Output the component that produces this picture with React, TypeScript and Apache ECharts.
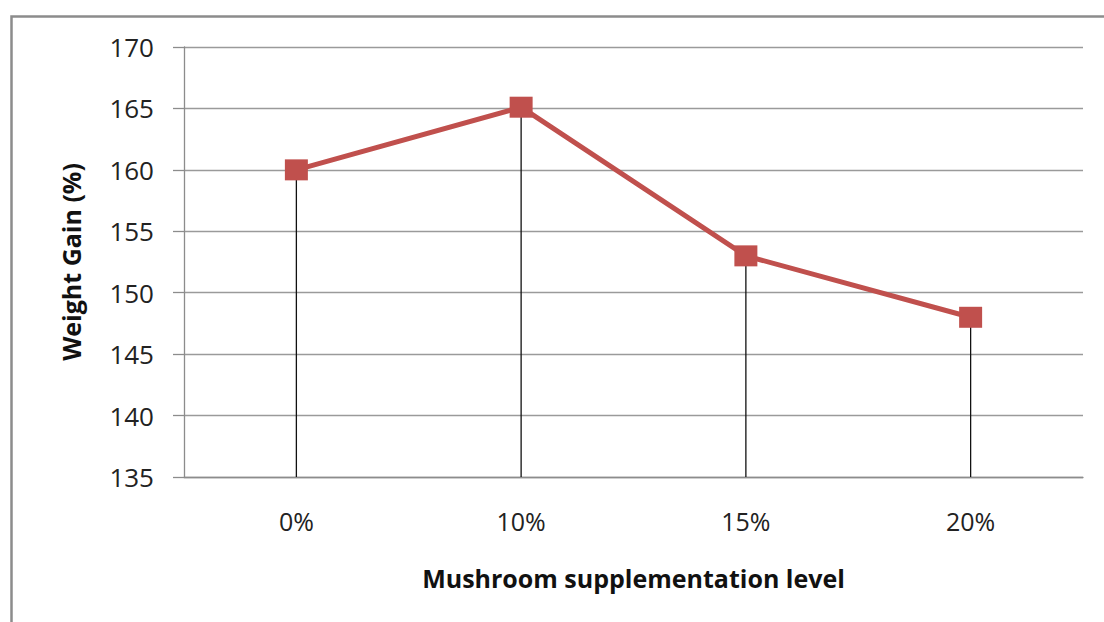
import React, { useEffect, useRef } from "react";
import * as echarts from "echarts";

const categories = ["0%", "10%", "15%", "20%"];
const weightGain = [160, 165.1, 153, 148];
const yMin = 135;
const yMax = 170;
const yInterval = 5;

export default function App() {
  const ref = useRef<HTMLDivElement>(null);
  useEffect(() => {
    if (!ref.current) return;
    const chart = echarts.init(ref.current, undefined, { renderer: "svg" });
    const font = "'Open Sans', 'Liberation Sans', sans-serif";
    chart.setOption({
      animation: false,
      backgroundColor: "#ffffff",
      graphic: [
        {
          type: "rect",
          left: 9,
          top: 14,
          shape: { width: 1200, height: 700 },
          style: { fill: "none", stroke: "#8c8c8c", lineWidth: 2.5 },
          silent: true,
        },
      ],
      grid: { left: 184, right: 21, top: 47, bottom: 145, containLabel: false },
      xAxis: {
        type: "category",
        data: categories,
        boundaryGap: true,
        axisLine: { show: true, lineStyle: { color: "#8c8c8c", width: 1.3 } },
        axisTick: { show: false },
        axisLabel: { color: "#222", fontFamily: font, fontSize: 25, margin: 31 },
        name: "Mushroom supplementation level",
        nameLocation: "middle",
        nameGap: 88,
        nameTextStyle: { color: "#111", fontFamily: font, fontSize: 25, fontWeight: "bold" },
      },
      yAxis: {
        type: "value",
        min: yMin,
        max: yMax,
        interval: yInterval,
        axisLine: { show: true, lineStyle: { color: "#8c8c8c", width: 1.3 } },
        axisTick: { show: true, inside: false, length: 11, lineStyle: { color: "#8c8c8c", width: 1.3 } },
        splitLine: { show: true, lineStyle: { color: "#9a9a9a", width: 1.3 } },
        axisLabel: { color: "#222", fontFamily: font, fontSize: 26, margin: 30 },
        name: "Weight Gain (%)",
        nameLocation: "middle",
        nameGap: 101,
        nameRotate: 90,
        nameTextStyle: { color: "#111", fontFamily: font, fontSize: 25, fontWeight: "bold" },
      },
      series: [
        {
          type: "bar",
          data: weightGain,
          barWidth: 1.3,
          itemStyle: { color: "#111" },
          z: 1,
          silent: true,
        },
        {
          type: "line",
          data: weightGain,
          symbol: "rect",
          symbolSize: [23, 21],
          lineStyle: { color: "#C0504D", width: 5 },
          itemStyle: { color: "#C0504D" },
          z: 2,
          silent: true,
        },
      ],
    });
    return () => chart.dispose();
  }, []);
  return (
    <div
      ref={ref}
      style={{ position: "fixed", left: 0, top: 0, width: 1104, height: 622 }}
    />
  );
}
